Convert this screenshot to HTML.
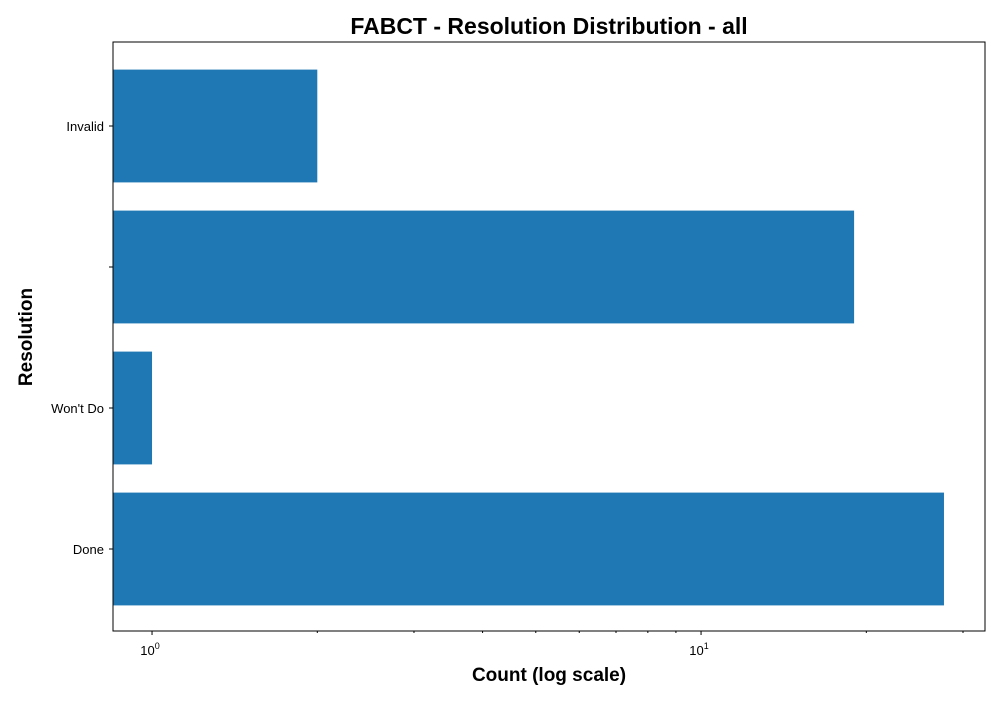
<!DOCTYPE html>
<html><head><meta charset="utf-8"><style>
body{margin:0;background:#fff;font-family:"Liberation Sans","DejaVu Sans",sans-serif}
</style></head><body>
<svg id="chart" width="1000" height="700" xmlns="http://www.w3.org/2000/svg"></svg>
<script>
const categories = ["Done", "Won't Do", "", "Invalid"];
const counts = [27.7, 1, 19, 2];
const majorTicks = [1, 10];
const minorTicks = [2,3,4,5,6,7,8,9,20,30];

const L=113,R=985,T=42,B=631;
const xMin=Math.log10(0.849), xMax=Math.log10(32.9);
const x=v=>L+(Math.log10(v)-xMin)/(xMax-xMin)*(R-L);
const step=141;
const y=i=>549-step*i;
const svg=document.getElementById('chart');
const NS='http://www.w3.org/2000/svg';
function mk(tag,attrs,text){const e=document.createElementNS(NS,tag);for(const k in attrs)e.setAttribute(k,attrs[k]);if(text!==undefined)e.textContent=text;svg.appendChild(e);return e;}

categories.forEach((c,i)=>{
  const w=x(counts[i])-L;
  const r=mk('rect',{x:L,y:y(i)-step*0.4,width:w,height:step*0.8,fill:'#1f77b4'});
  
  
  const t=mk('line',{x1:L-4,x2:L,y1:y(i),y2:y(i),stroke:'#000','stroke-width':1});
  
  
  const lb=mk('text',{x:L-9,y:y(i)+5,'text-anchor':'end','font-size':13},c);
  
  
});
majorTicks.forEach((v,i)=>{
  const t=mk('line',{x1:x(v),x2:x(v),y1:B,y2:B+4,stroke:'#000'});
  
  
  const lb=mk('text',{x:x(v)-2,y:B+24,'text-anchor':'middle','font-size':13},'');
  
  
  lb.innerHTML='10<tspan dy="-6" font-size="9">'+Math.round(Math.log10(v))+'</tspan>';
});
minorTicks.forEach(v=>{
  const t=mk('line',{x1:x(v),x2:x(v),y1:B,y2:B+2,stroke:'#000'});
  
  
});
const fr=mk('rect',{x:L,y:T,width:R-L,height:B-T,fill:'none',stroke:'#000','stroke-width':1});


const ti=mk('text',{x:549,y:34,'text-anchor':'middle','font-size':23,'font-weight':'bold'},'FABCT - Resolution Distribution - all');


const xl=mk('text',{x:549,y:681,'text-anchor':'middle','font-size':19,'font-weight':'bold'},'Count (log scale)');


const yl=mk('text',{x:0,y:0,'text-anchor':'middle','font-size':19,'font-weight':'bold',transform:'translate(32,337) rotate(-90)'},'Resolution');


</script>
</body></html>
